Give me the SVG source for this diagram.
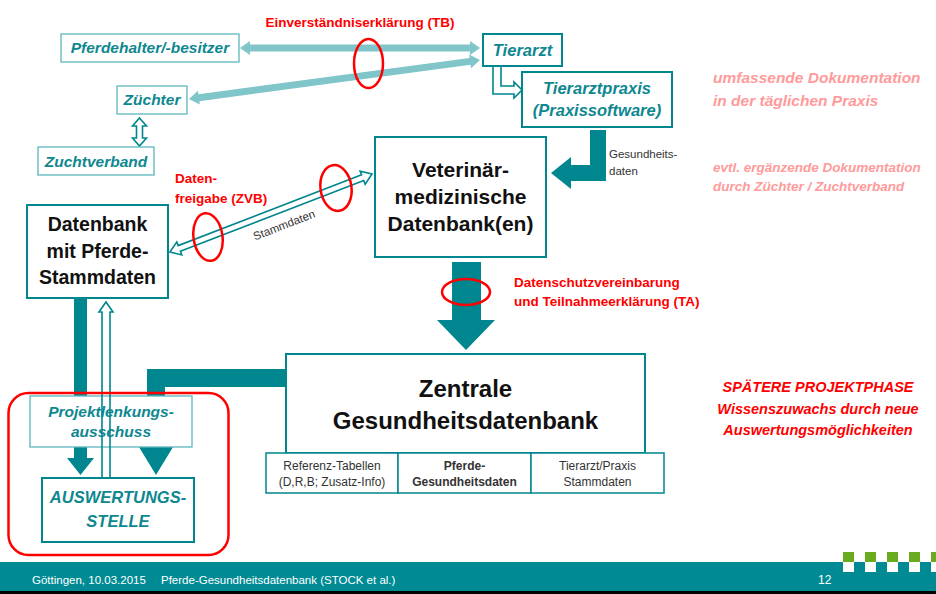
<svg xmlns="http://www.w3.org/2000/svg" width="936" height="594" viewBox="0 0 936 594">
<style>
text{font-family:"Liberation Sans",Arial,sans-serif}
.tn{fill:#0e8790;font-weight:bold;font-style:italic;text-anchor:middle}
.lbox{fill:#fff;stroke:#5ab6bc;stroke-width:1.3}
.dbox{fill:#fff;stroke:#00868f;stroke-width:2}
.sbox{fill:#fff;stroke:#00868f;stroke-width:1.5}
.big{fill:#111;font-weight:bold;text-anchor:middle}
.sm{fill:#333;font-size:12px;text-anchor:middle}
.red{fill:#ff0000;font-weight:bold;font-size:13.5px}
.pink{fill:#ff9a9a;font-weight:bold;font-style:italic}
.ell{fill:none;stroke:#ff0000;stroke-width:2.5}
.solid{fill:#00868f}
.light{fill:#7fc5c9}
.hollow{fill:#fff;stroke:#00868f;stroke-width:1.6;stroke-linejoin:miter}
</style>
<rect width="936" height="594" fill="#fff"/>
<g id="connectors">
  <path class="light" transform="translate(240,48)" d="M0,0 L10,-7 L10,-3.5 L230,-3.5 L230,-7 L240,0 L230,7 L230,3.5 L10,3.5 L10,7 Z"/>
  <path class="light" transform="translate(189,99) rotate(-7.63)" d="M0,0 L10,-7 L10,-3.5 L283.6,-3.5 L283.6,-7 L293.6,0 L283.6,7 L283.6,3.5 L10,3.5 L10,7 Z"/>
  <path class="hollow" stroke-width="2" d="M139.5,118 L146.5,126 L142.5,126 L142.5,138 L146.5,138 L139.5,146 L132.5,138 L136.5,138 L136.5,126 L132.5,126 Z"/>
  <path class="hollow" d="M493,66 L493,94 L514,94 L514,98 L522,90 L514,82 L514,86 L501,86 L501,66"/>
  <path class="solid" d="M590,130 L606,130 L606,181 L571,181 L571,189 L551,173 L571,157 L571,165 L590,165 Z"/>
  <path class="hollow" transform="translate(170,252) rotate(-21.1)" d="M0,0 L10,-7 L10,-3 L206.5,-3 L206.5,-7 L216.5,0 L206.5,7 L206.5,3 L10,3 L10,7 Z"/>
  <text transform="translate(284,225) rotate(-21.1)" x="0" y="4" fill="#333" font-size="11.5" text-anchor="middle">Stammdaten</text>
  <path class="solid" d="M452,262 L481,262 L481,320 L495,320 L466,350 L437,320 L452,320 Z"/>
  <path class="solid" d="M74,298 L87,298 L87,458 L94,458 L80.5,475 L67,458 L74,458 Z"/>
  <path class="solid" d="M286,369 L147,369 L147,447 L139,447 L156,475 L173,447 L165,447 L165,387 L286,387 Z"/>
</g>
<g id="pferdehalter">
  <rect class="lbox" x="61" y="34" width="178" height="28"/>
  <text class="tn" x="150" y="53" font-size="15.5">Pferdehalter/-besitzer</text>
</g>
<g id="zuechter">
  <rect class="lbox" x="117" y="86" width="70" height="28"/>
  <text class="tn" x="152" y="105" font-size="15.5">Züchter</text>
</g>
<g id="zuchtverband">
  <rect class="lbox" x="38" y="147" width="116" height="28"/>
  <text class="tn" x="96" y="167" font-size="15.5">Zuchtverband</text>
</g>
<g id="tierarzt">
  <rect class="dbox" x="483" y="34" width="79" height="32"/>
  <text class="tn" x="522.5" y="56" font-size="16.5">Tierarzt</text>
</g>
<g id="tierarztpraxis">
  <rect class="dbox" x="522" y="72" width="150" height="55"/>
  <text class="tn" x="597" y="94" font-size="16.5">Tierarztpraxis</text>
  <text class="tn" x="597" y="116" font-size="16.5">(Praxissoftware)</text>
</g>
<g id="vetdb">
  <rect class="dbox" x="375" y="137" width="171" height="120"/>
  <text class="big" x="460.5" y="177" font-size="21">Veterinär-</text>
  <text class="big" x="460.5" y="204" font-size="21">medizinische</text>
  <text class="big" x="460.5" y="231" font-size="21">Datenbank(en)</text>
</g>
<g id="stammdb">
  <rect class="dbox" x="27" y="205" width="141" height="93"/>
  <text class="big" x="97.5" y="231" font-size="19.5">Datenbank</text>
  <text class="big" x="97.5" y="258" font-size="19.5">mit Pferde-</text>
  <text class="big" x="97.5" y="284" font-size="19.5">Stammdaten</text>
</g>
<g id="zentrale">
  <rect class="dbox" x="286" y="354" width="359" height="99"/>
  <text class="big" x="465.5" y="397" font-size="24">Zentrale</text>
  <text class="big" x="465.5" y="429" font-size="24">Gesundheitsdatenbank</text>
</g>
<g id="referenz">
  <rect class="sbox" x="266" y="453" width="132" height="40"/>
  <text class="sm" x="332" y="470">Referenz-Tabellen</text>
  <text class="sm" x="332" y="486">(D,R,B; Zusatz-Info)</text>
</g>
<g id="pferdegesundheit">
  <rect class="sbox" x="398" y="453" width="133" height="40"/>
  <text class="sm" x="464.5" y="470" font-weight="bold" fill="#222">Pferde-</text>
  <text class="sm" x="464.5" y="486" font-weight="bold" fill="#222">Gesundheitsdaten</text>
</g>
<g id="tierarztstamm">
  <rect class="sbox" x="531" y="453" width="133" height="40"/>
  <text class="sm" x="597.5" y="470">Tierarzt/Praxis</text>
  <text class="sm" x="597.5" y="486">Stammdaten</text>
</g>
<g id="projektlenkung">
  <rect class="lbox" x="30" y="396" width="162" height="51"/>
  <text class="tn" x="111" y="417" font-size="15.5">Projektlenkungs-</text>
  <text class="tn" x="111" y="437" font-size="15.5">ausschuss</text>
</g>
<g id="auswertung">
  <rect class="dbox" x="42" y="478" width="152" height="64"/>
  <text class="tn" x="118" y="503" font-size="16.5">AUSWERTUNGS-</text>
  <text class="tn" x="118" y="527" font-size="16.5">STELLE</text>
</g>
<g id="connectors-over">
  <path fill="none" stroke="#00868f" stroke-width="1.6" d="M106,302 L113,312 L110,312 L110,478 L102,478 L102,312 L99,312 Z"/>
</g>
<g id="annotations">
  <text class="red" x="360" y="27" text-anchor="middle">Einverständniserklärung (TB)</text>
  <text class="red" x="175" y="183">Daten-</text>
  <text class="red" x="175" y="203">freigabe (ZVB)</text>
  <text class="red" x="514" y="287">Datenschutzvereinbarung</text>
  <text class="red" x="514" y="306">und Teilnahmeerklärung (TA)</text>
  <text fill="#333" font-size="11.5" x="609" y="158">Gesundheits-</text>
  <text fill="#333" font-size="11.5" x="609" y="175">daten</text>
  <text class="pink" x="713" y="83" font-size="15.5">umfassende Dokumentation</text>
  <text class="pink" x="713" y="106" font-size="15.5">in der täglichen Praxis</text>
  <text class="pink" x="713" y="172" font-size="13.5">evtl. ergänzende Dokumentation</text>
  <text class="pink" x="713" y="191" font-size="13.5">durch Züchter / Zuchtverband</text>
  <text x="818" y="392" font-size="14.5" fill="#ff0000" font-weight="bold" font-style="italic" text-anchor="middle">SPÄTERE PROJEKTPHASE</text>
  <text x="818" y="414" font-size="14.5" fill="#ff0000" font-weight="bold" font-style="italic" text-anchor="middle">Wissenszuwachs durch neue</text>
  <text x="818" y="435" font-size="14.5" fill="#ff0000" font-weight="bold" font-style="italic" text-anchor="middle">Auswertungsmöglichkeiten</text>
  <ellipse class="ell" cx="368.5" cy="63.5" rx="14.5" ry="24.5"/>
  <ellipse class="ell" cx="208" cy="237" rx="14.5" ry="24" transform="rotate(-8 208 237)"/>
  <ellipse class="ell" cx="336" cy="188" rx="15.5" ry="23" transform="rotate(-8 336 188)"/>
  <ellipse class="ell" cx="466" cy="292" rx="24" ry="13"/>
  <rect x="8.5" y="393" width="220" height="162" rx="20" fill="none" stroke="#ff0000" stroke-width="2.5"/>
</g>
<g id="footer">
  <rect x="0" y="562" width="936" height="29" fill="#008b94"/>
  <rect x="0" y="591" width="936" height="3" fill="#000"/>
  <g fill="#6aaa1e">
    <rect x="843" y="552" width="11" height="10"/>
    <rect x="865" y="552" width="11" height="10"/>
    <rect x="887" y="552" width="11" height="10"/>
    <rect x="909" y="552" width="11" height="10"/>
    <rect x="931" y="552" width="5" height="10"/>
  </g>
  <g fill="#fff">
    <rect x="843" y="562" width="11" height="10"/>
    <rect x="865" y="562" width="11" height="10"/>
    <rect x="887" y="562" width="11" height="10"/>
    <rect x="909" y="562" width="11" height="10"/>
    <rect x="931" y="562" width="5" height="10"/>
  </g>
  <text x="32" y="584" fill="#fff" font-size="11.5">Göttingen, 10.03.2015</text>
  <text x="161" y="584" fill="#fff" font-size="11.5">Pferde-Gesundheitsdatenbank (STOCK et al.)</text>
  <text x="818" y="584" fill="#fff" font-size="12">12</text>
</g>
</svg>
